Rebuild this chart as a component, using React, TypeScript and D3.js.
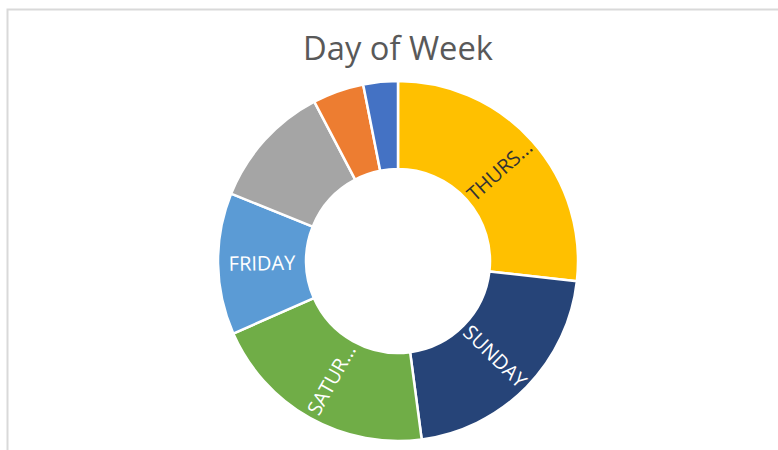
import React, { useEffect, useRef } from "react";
import * as d3 from "d3";

// slices clockwise from 12 o'clock
const days = ["THURSDAY", "SUNDAY", "SATURDAY", "FRIDAY", "WEDNESDAY", "TUESDAY", "MONDAY"];
const counts = [268, 211, 205, 127, 112, 46, 31];
const labels = ["THURS...", "SUNDAY", "SATUR...", "FRIDAY", "", "", ""];
const colors = ["#FFC000", "#264478", "#70AD47", "#5B9BD5", "#A5A5A5", "#ED7D31", "#4472C4"];
const labelColors = ["#333333", "#ffffff", "#ffffff", "#ffffff", "#ffffff", "#ffffff", "#ffffff"];

const DonutChart = (props: { width: number; height: number }) => {
    const ref = useRef<SVGGElement>(null);

    useEffect(() => {
        const group = d3.select(ref.current);
        group.selectAll("*").remove();

        const cx = 398;
        const cy = 261;
        const outer = 180;
        const inner = 92;

        const data = days.map((d, i) => ({ day: d, value: counts[i], label: labels[i], i }));

        const pie = d3.pie<any>()
            .value(d => d.value)
            .sort(null);

        const arc = d3.arc<any>()
            .innerRadius(inner)
            .outerRadius(outer);

        const arcs = pie(data);

        const g = group.append("g")
            .attr("transform", `translate(${cx}, ${cy})`);

        g.selectAll("path")
            .data(arcs)
            .enter().append("path")
                .attr("d", arc)
                .attr("fill", d => colors[d.data.i])
                .attr("stroke", "#ffffff")
                .attr("stroke-width", 2.5)
                .attr("stroke-linejoin", "round");

        const mid = (inner + outer) / 2;
        g.selectAll("text")
            .data(arcs.filter(d => d.data.label))
            .enter().append("text")
                .attr("transform", d => {
                    const a = (d.startAngle + d.endAngle) / 2;
                    const x = mid * Math.sin(a);
                    const y = -mid * Math.cos(a);
                    let rot = (a * 180) / Math.PI - 90;
                    if (rot > 90) rot -= 180;
                    return `translate(${x}, ${y}) rotate(${rot})`;
                })
                .attr("text-anchor", "middle")
                .attr("dy", "0.36em")
                .attr("font-family", "'Open Sans', 'Noto Sans', sans-serif")
                .attr("font-size", 20)
                .attr("fill", d => labelColors[d.data.i])
                .text(d => d.data.label);
    }, []);

    return (
        <svg width={props.width} height={props.height}
            style={{ position: "absolute", left: 0, top: 0, background: "#ffffff" }}>
            <rect x={7.5} y={9.5} width={props.width} height={props.height} fill="#ffffff"
                stroke="#d9d9d9" strokeWidth={2} />
            <text x={398} y={60} textAnchor="middle" fill="#595959"
                fontFamily="'Open Sans', 'Noto Sans', sans-serif" fontSize={33}
                textLength={190} lengthAdjust="spacingAndGlyphs">Day of Week</text>
            <g ref={ref} />
        </svg>
    );
};

export default function App() {
    return <DonutChart width={778} height={450} />;
}
